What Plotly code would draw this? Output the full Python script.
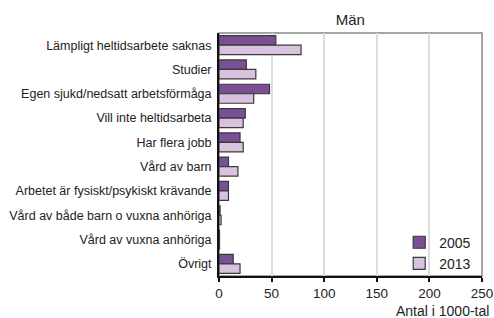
import plotly.graph_objects as go

categories = [
    "Lämpligt heltidsarbete saknas",
    "Studier",
    "Egen sjukd/nedsatt arbetsförmåga",
    "Vill inte heltidsarbeta",
    "Har flera jobb",
    "Vård av barn",
    "Arbetet är fysiskt/psykiskt krävande",
    "Vård av både barn o vuxna anhöriga",
    "Vård av vuxna anhöriga",
    "Övrigt",
]
values_2005 = [54, 26, 48, 25, 20, 9, 9, 1, 0.5, 13.5]
values_2013 = [78, 35, 33, 23, 23, 18, 9, 2, 0.5, 20]
x_ticks = [0, 50, 100, 150, 200, 250]

fig = go.Figure()
fig.add_trace(go.Bar(y=categories, x=values_2005, orientation="h", name="2005",
                     marker=dict(color="#7a4f93", line=dict(color="#3a3a3a", width=1.2))))
fig.add_trace(go.Bar(y=categories, x=values_2013, orientation="h", name="2013",
                     marker=dict(color="#d8c2df", line=dict(color="#3a3a3a", width=1.2))))

fig.update_layout(
    width=494, height=318,
    margin=dict(l=219, r=12, t=33, b=42, autoexpand=False),
    paper_bgcolor="white", plot_bgcolor="white",
    font=dict(family="Liberation Sans, Arial, sans-serif", size=12, color="#222222"),
    barmode="group", bargap=0.22, bargroupgap=0,
    title=dict(text="Män", x=0.709, xanchor="center", y=0.937, yanchor="middle",
               font=dict(size=15, color="#222222")),
    legend=dict(x=0.978, xanchor="right", y=-0.015, yanchor="bottom",
                bgcolor="rgba(0,0,0,0)", font=dict(size=14),
                itemwidth=30, tracegroupgap=0),
    showlegend=True,
)
fig.update_xaxes(range=[0, 250], tickvals=x_ticks, showgrid=True, gridcolor="#dcdcdc",
                 gridwidth=2, showline=True, linecolor="#111111", linewidth=2,
                 ticks="outside", ticklen=4, tickcolor="#111111", tickwidth=1.5,
                 zeroline=False, tickfont=dict(size=13.5), automargin=False)
fig.update_yaxes(autorange="reversed", showline=True, linecolor="#111111", linewidth=2,
                 showgrid=False, ticks="", ticklabelstandoff=3, tickfont=dict(size=12.5),
                 automargin=False)
fig.add_shape(type="rect", xref="paper", yref="paper", x0=0, x1=1, y0=0, y1=1,
              line=dict(color="#888888", width=1.5), layer="below")
fig.add_annotation(text="Antal i 1000-tal", xref="paper", yref="paper", x=1.035, y=-0.145,
                   xanchor="right", yanchor="middle", showarrow=False, font=dict(size=14))
fig.write_html("out.html", config={"displayModeBar": False},
               post_script="document.body.style.margin='0';document.body.style.overflow='hidden';")
